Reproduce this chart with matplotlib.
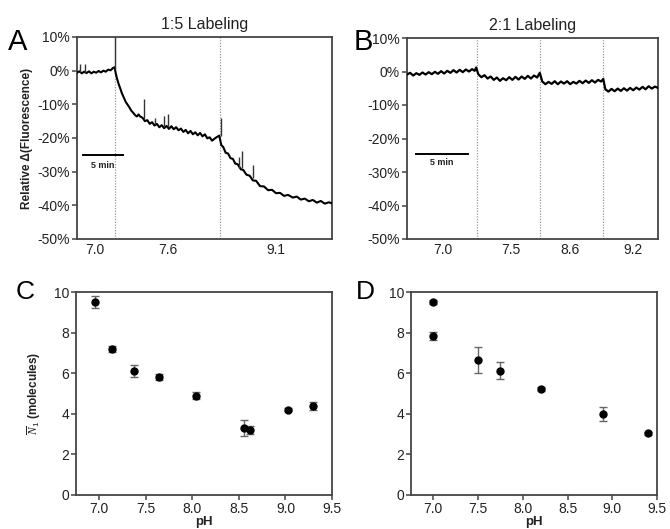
import matplotlib
matplotlib.use("Agg")
import matplotlib.pyplot as plt

plt.rcParams["font.family"] = ["Liberation Sans", "DejaVu Sans"]
plt.rcParams["mathtext.fontset"] = "custom"
plt.rcParams["mathtext.it"] = "Liberation Serif:italic"
plt.rcParams["mathtext.rm"] = "Liberation Sans"

W, H = 670, 529
INK = "#222222"
SPINE = "#444444"
DOT = "#9a9a9a"

# ---- panel A: 1:5 labeling trace (time in min, relative change in %) ----
a_t = [0.0, 0.3, 0.6, 0.9, 1.2, 1.5, 1.8, 2.1, 2.4, 2.7, 3.0, 3.3, 3.6, 3.9, 4.2, 4.5, 4.7,
       4.85, 5.0, 5.2, 5.4, 5.6, 5.8, 6.1, 6.5, 6.8, 7.1, 7.3, 7.5, 7.7, 7.9,
       8.2, 8.5, 8.8, 9.1, 9.4, 9.7, 10.0, 10.3, 10.6, 10.9, 11.2, 11.5, 11.8, 12.1, 12.4,
       12.7, 13.0, 13.3, 13.6, 13.9, 14.2, 14.5, 14.8, 15.1, 15.4, 15.7, 16.0, 16.3, 16.6,
       16.9, 17.2, 17.5, 17.8,
       18.05, 18.3, 18.6, 18.9, 19.2, 19.5, 19.8, 20.1, 20.5, 20.8, 21.2, 21.6, 22.0, 22.4,
       22.9, 23.4, 23.9, 24.4, 24.9, 25.4, 25.9, 26.4, 27.0, 27.5, 28.0, 28.5, 29.0, 29.5,
       30.0, 30.5, 31.0, 31.5, 31.9]
a_v = [-0.6, -0.2, -0.8, -0.3, -0.7, -0.2, -0.8, -0.3, -0.6, -0.1, -0.5, 0.0, -0.3, 0.3, 0.1, 0.8, 1.0,
       -0.8, -2.3, -3.9, -5.2, -6.6, -7.7, -9.3, -10.7, -11.9, -12.7, -13.3, -13.6, -13.0, -13.6,
       -14.0, -15.0, -14.7, -15.8, -15.3, -16.3, -15.8, -16.8, -16.2, -17.1, -16.4, -17.3, -16.5, -17.4, -16.8,
       -17.7, -17.2, -18.2, -17.6, -18.6, -17.9, -18.9, -18.3, -19.2, -18.5, -19.5, -18.9, -20.1, -19.8,
       -20.8, -20.2, -19.7, -19.3,
       -22.1, -22.7, -24.4, -24.6, -26.0, -26.2, -27.6, -27.8, -29.3, -29.5, -30.9, -31.2, -32.6, -32.7,
       -34.3, -34.4, -35.5, -35.4, -36.4, -36.3, -37.2, -36.9, -37.7, -37.4, -38.3, -38.0, -38.8, -38.4,
       -39.2, -38.7, -39.5, -39.1, -39.4]
a_spike_t = [0.4, 1.0, 4.75, 8.4, 9.7, 10.9, 11.4, 17.96, 20.3, 20.6, 22.0]
a_spike_lo = [-0.4, -0.6, 0.5, -14.4, -15.9, -16.6, -16.7, -19.4, -28.8, -29.0, -32.0]
a_spike_hi = [1.9, 1.9, 10.0, -8.5, -14.1, -13.5, -12.9, -14.1, -25.5, -23.8, -28.0]
a_steps = [4.75, 17.9]
a_tick_pos = [2.2, 11.4, 24.9]
a_tick_lab = ["7.0", "7.6", "9.1"]

# ---- panel B: 2:1 labeling trace ----
b_t = [0.0, 0.3, 0.6, 0.9, 1.2, 1.5, 1.8, 2.1, 2.4, 2.7, 3.0, 3.3, 3.6, 3.9, 4.2, 4.5,
       4.8, 5.1, 5.4, 5.7, 6.0, 6.3, 6.55, 6.7,
       6.9, 7.2, 7.5, 7.8, 8.1, 8.4, 8.7, 9.0, 9.3, 9.6, 9.9, 10.2, 10.5, 10.8, 11.1,
       11.4, 11.7, 12.0, 12.3, 12.6, 12.85,
       13.1, 13.4, 13.7, 14.0, 14.3, 14.6, 14.9, 15.2, 15.5, 15.8, 16.1, 16.4, 16.7,
       17.0, 17.3, 17.6, 17.9, 18.2, 18.5, 18.8, 19.0,
       19.2, 19.5, 19.8, 20.1, 20.4, 20.7, 21.0, 21.3, 21.6, 21.9, 22.2, 22.5, 22.8,
       23.1, 23.4, 23.7, 24.0, 24.3]
b_v = [-0.9, -0.4, -1.2, -0.5, -1.0, -0.3, -0.9, -0.2, -0.8, -0.1, -0.7, 0.1, -0.6, 0.2, -0.4, 0.4,
       -0.3, 0.5, -0.2, 0.6, 0.0, 0.7, 0.2, 1.2,
       -0.8, -1.7, -1.1, -2.1, -1.5, -2.5, -1.8, -2.8, -2.0, -2.6, -1.7, -2.5, -1.6, -2.4, -1.5,
       -2.2, -1.3, -2.1, -1.2, -1.8, -0.4,
       -3.0, -3.8, -3.1, -3.7, -2.9, -3.8, -3.0, -3.6, -2.9, -3.8, -3.1, -3.6, -2.8,
       -3.5, -2.7, -3.4, -2.6, -3.3, -2.5, -3.0, -2.2,
       -5.3, -6.0, -5.2, -5.9, -5.1, -5.8, -5.0, -5.7, -4.9, -5.6, -4.8, -5.4, -4.6,
       -5.3, -4.4, -5.1, -4.5, -4.9]
b_steps = [6.75, 12.9, 19.0]
b_tick_pos = [3.5, 10.1, 15.8, 21.9]
b_tick_lab = ["7.0", "7.5", "8.6", "9.2"]

pct_ticks = [10, 0, -10, -20, -30, -40, -50]

# ---- panel C / D: N1 vs pH ----
c_ph = [6.95, 7.14, 7.37, 7.64, 8.04, 8.56, 8.62, 9.03, 9.30]
c_n = [9.5, 7.2, 6.1, 5.8, 4.9, 3.3, 3.2, 4.2, 4.4]
c_err = [0.3, 0.15, 0.3, 0.15, 0.15, 0.4, 0.2, 0.08, 0.2]

d_ph = [7.0, 7.0, 7.5, 7.75, 8.2, 8.9, 9.4]
d_n = [9.5, 7.85, 6.65, 6.13, 5.23, 3.98, 3.04]
d_err = [0.1, 0.2, 0.65, 0.43, 0.1, 0.34, 0.08]

ph_ticks = [7.0, 7.5, 8.0, 8.5, 9.0, 9.5]
n_ticks = [0, 2, 4, 6, 8, 10]


def ax_px(fig, left, top, right, bottom):
    return fig.add_axes([left / W, 1 - bottom / H, (right - left) / W, (bottom - top) / H])


def style(ax):
    for s in ax.spines.values():
        s.set_color(SPINE)
        s.set_linewidth(1.3)
    ax.tick_params(colors=SPINE, labelcolor=INK, labelsize=10, length=3.5, width=1.1,
                   direction="out", pad=1.5)


def trace_axes(ax, t, v, steps, tpos, tlab, xmax, lw, bar):
    style(ax)
    for s in steps:
        ax.axvline(s, color=DOT, lw=0.9, ls=(0, (1, 1.2)), zorder=1)
    ax.plot(t, v, color="black", lw=lw, solid_joinstyle="round", zorder=3)
    ax.set_xlim(0, xmax)
    ax.set_ylim(-50, 10)
    ax.set_yticks(pct_ticks)
    ax.set_yticklabels([f"{p}%" for p in pct_ticks])
    ax.set_xticks(tpos)
    ax.set_xticklabels(tlab)
    ax.tick_params(axis="x", length=0, pad=3)
    x0, x1, yb, yt = bar
    ax.plot([x0, x1], [yb, yb], color="black", lw=1.4, zorder=3)
    ax.text((x0 + x1) / 2, yt, "5 min", fontsize=6.5, fontweight="bold", ha="center",
            va="center", color=INK)


def scatter_axes(ax, ph, n, err):
    style(ax)
    ax.errorbar(ph, n, yerr=err, fmt="o", color="black", ms=5, ecolor="#666666",
                elinewidth=1.0, capsize=2.6, capthick=1.0, zorder=3)
    ax.set_xlim(6.75, 9.5)
    ax.set_ylim(0, 10)
    ax.set_xticks(ph_ticks)
    ax.set_xticklabels([f"{p:.1f}" for p in ph_ticks])
    ax.set_yticks(n_ticks)
    ax.set_xlabel("pH", fontsize=9.5, fontweight="bold", labelpad=0, color=INK)


fig = plt.figure(figsize=(W / 100, H / 100), dpi=100, facecolor="white")

ax_a = ax_px(fig, 77, 37, 332, 239)
trace_axes(ax_a, a_t, a_v, a_steps, a_tick_pos, a_tick_lab, 31.9, 1.5, (0.7, 5.7, -25.0, -28.3))
ax_a.vlines(a_spike_t, a_spike_lo, a_spike_hi, color="#333333", lw=1.0, zorder=3)
ax_a.set_ylabel("Relative \u0394(Fluorescence)", fontsize=8.5, fontweight="bold",
                labelpad=3, color=INK)
ax_a.set_title("1:5 Labeling", fontsize=11.5, pad=6, color=INK)

ax_b = ax_px(fig, 407, 38, 658, 239)
trace_axes(ax_b, b_t, b_v, b_steps, b_tick_pos, b_tick_lab, 24.3, 1.6, (0.9, 5.9, -24.5, -27.2))
ax_b.set_title("2:1 Labeling", fontsize=11.5, pad=6, color=INK)

ax_c = ax_px(fig, 76, 292, 332, 495)
scatter_axes(ax_c, c_ph, c_n, c_err)
ax_c.set_ylabel(r"$\overline{N}_{\mathrm{1}}$ (molecules)", fontsize=8.5, fontweight="bold",
                labelpad=8, color=INK)

ax_d = ax_px(fig, 411, 292, 657, 495)
scatter_axes(ax_d, d_ph, d_n, d_err)

for lab, x, y, fs in [("A", 8, 50, 21), ("B", 354, 50, 21), ("C", 16, 299, 19), ("D", 356, 299, 19)]:
    fig.text(x / W, 1 - y / H, lab, fontsize=fs, color="black", ha="left", va="baseline")

fig.savefig("out.png", dpi=100, facecolor="white")
